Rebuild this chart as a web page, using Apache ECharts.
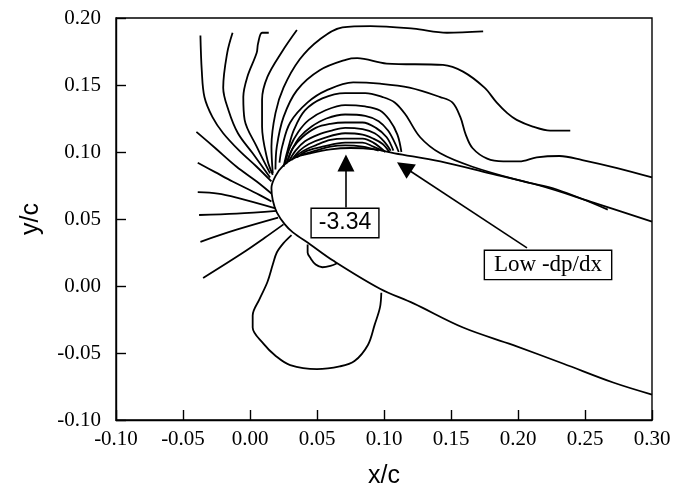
<!DOCTYPE html>
<html>
<head>
<meta charset="utf-8">
<script src="https://cdn.jsdelivr.net/npm/echarts@6/dist/echarts.min.js"></script>
<style>
html,body{margin:0;padding:0;background:#fff;}
#chart{width:686px;height:497px;}
</style>
</head>
<body>
<div id="chart"></div>
<script>
// airfoil surface: upper side from x/c=0.30, round the nose, lower side back to 0.30
const airfoil = [[0.300,0.048],[0.254,0.063],[0.216,0.075],[0.179,0.084],[0.142,0.093],[0.108,0.099],[0.093,0.102],[0.075,0.103],[0.060,0.102],[0.045,0.099],[0.034,0.096],[0.025,0.090],[0.019,0.082],[0.016,0.073],[0.017,0.064],[0.020,0.055],[0.026,0.046],[0.032,0.040],[0.045,0.031],[0.062,0.019],[0.097,-0.002],[0.122,-0.013],[0.159,-0.031],[0.196,-0.044],[0.234,-0.058],[0.271,-0.072],[0.300,-0.081]];

// contours fanning up-left from the nose
const fanL1 = [[-0.037,0.187],[-0.036,0.161],[-0.034,0.141],[-0.028,0.126],[-0.020,0.114],[-0.008,0.101],[0.005,0.089],[0.016,0.078]];
const fanL2 = [[-0.013,0.189],[-0.017,0.174],[-0.020,0.148],[-0.016,0.131],[-0.009,0.114],[0.002,0.099],[0.015,0.081]];
const fanL3 = [[0.014,0.189],[0.009,0.189],[0.006,0.181],[0.005,0.174],[-0.002,0.156],[-0.005,0.141],[-0.004,0.124],[0.005,0.104],[0.015,0.084]];
const fanL4 = [[0.035,0.191],[0.024,0.175],[0.013,0.156],[0.009,0.139],[0.009,0.119],[0.013,0.094],[0.017,0.083]];

// contours going over the top and off to the right
const topT1 = [[0.017,0.084],[0.016,0.104],[0.019,0.129],[0.025,0.148],[0.037,0.169],[0.052,0.184],[0.069,0.193],[0.090,0.194],[0.122,0.192],[0.147,0.189],[0.174,0.190]];
const topT2 = [[0.019,0.087],[0.020,0.104],[0.025,0.126],[0.035,0.146],[0.052,0.161],[0.072,0.169],[0.080,0.170],[0.102,0.166],[0.144,0.165],[0.159,0.160],[0.175,0.148],[0.184,0.137],[0.192,0.129],[0.199,0.124],[0.211,0.119],[0.224,0.116],[0.239,0.116]];
const topT3 = [[0.022,0.092],[0.024,0.104],[0.030,0.122],[0.043,0.137],[0.057,0.146],[0.077,0.152],[0.097,0.151],[0.119,0.148],[0.142,0.141],[0.151,0.137],[0.157,0.126],[0.161,0.113],[0.166,0.103],[0.177,0.095],[0.189,0.093],[0.201,0.093],[0.214,0.096],[0.231,0.097],[0.248,0.094],[0.274,0.088],[0.300,0.081]];
const topT4 = [[0.025,0.089],[0.028,0.101],[0.033,0.117],[0.041,0.131],[0.054,0.140],[0.071,0.144],[0.086,0.144],[0.099,0.141],[0.108,0.137],[0.116,0.128],[0.127,0.111],[0.142,0.099],[0.166,0.089],[0.204,0.078],[0.229,0.072],[0.267,0.057]];

// tight arcs over the suction peak
const arcA5 = [[0.026,0.091],[0.030,0.104],[0.036,0.115],[0.044,0.124],[0.056,0.131],[0.071,0.135],[0.086,0.134],[0.097,0.131],[0.104,0.124],[0.110,0.113],[0.113,0.100]];
const arcA6 = [[0.027,0.091],[0.031,0.101],[0.037,0.111],[0.046,0.119],[0.057,0.125],[0.071,0.128],[0.086,0.127],[0.096,0.123],[0.103,0.116],[0.108,0.107],[0.111,0.100]];
const arcA7 = [[0.028,0.093],[0.032,0.103],[0.039,0.111],[0.049,0.118],[0.060,0.121],[0.071,0.122],[0.084,0.122],[0.094,0.118],[0.102,0.111],[0.107,0.101]];
const arcA8 = [[0.029,0.093],[0.034,0.101],[0.041,0.108],[0.051,0.113],[0.061,0.116],[0.071,0.118],[0.084,0.117],[0.093,0.114],[0.100,0.108],[0.105,0.101]];
const arcA9 = [[0.031,0.094],[0.037,0.101],[0.044,0.106],[0.054,0.110],[0.071,0.114],[0.084,0.113],[0.092,0.110],[0.099,0.106],[0.104,0.100]];
const arcA10 = [[0.033,0.096],[0.040,0.101],[0.049,0.105],[0.060,0.109],[0.071,0.110],[0.084,0.110],[0.092,0.107],[0.101,0.100]];
const arcA11 = [[0.035,0.096],[0.043,0.101],[0.054,0.104],[0.071,0.107],[0.084,0.107],[0.092,0.104],[0.099,0.101]];
const arcA12 = [[0.039,0.098],[0.049,0.101],[0.060,0.104],[0.071,0.105],[0.084,0.104],[0.096,0.101]];

// contours coming in from the left into the stagnation point
const leftF = [[-0.040,0.115],[-0.026,0.103],[-0.010,0.089],[0.005,0.078],[0.016,0.069]];
const leftG = [[-0.039,0.092],[-0.026,0.085],[-0.013,0.078],[0.007,0.068],[0.016,0.063]];
const leftH = [[-0.039,0.070],[-0.024,0.069],[-0.010,0.066],[0.019,0.058]];
const leftI = [[-0.038,0.053],[-0.010,0.054],[0.020,0.056]];
const leftJ = [[-0.037,0.033],[-0.010,0.042],[0.021,0.051]];
const leftK = [[-0.035,0.006],[-0.005,0.025],[0.011,0.036],[0.025,0.046]];

// closed-ish contours under the lower surface
const lowerLoop = [[0.031,0.038],[0.025,0.032],[0.020,0.025],[0.017,0.016],[0.013,0.003],[0.007,-0.010],[0.002,-0.022],[0.002,-0.031],[0.010,-0.043],[0.019,-0.052],[0.030,-0.059],[0.050,-0.062],[0.067,-0.060],[0.078,-0.056],[0.088,-0.044],[0.093,-0.029],[0.097,-0.016],[0.098,-0.005]];
const smallLoop = [[0.043,0.031],[0.043,0.025],[0.045,0.021],[0.049,0.016],[0.054,0.014],[0.060,0.015],[0.065,0.017]];

// annotations
const peakLabel = '-3.34';
const peakBox = [0.0709, 0.047];
const peakArrow = [[0.0716, 0.0586], [0.0716, 0.0918]];
const dpdxLabel = 'Low -dp/dx';
const dpdxBox = [0.2224, 0.0157];
const dpdxArrow = [[0.2067, 0.0284], [0.1150, 0.0888]];

const contours = [airfoil, fanL1, fanL2, fanL3, fanL4, topT1, topT2, topT3, topT4,
    arcA5, arcA6, arcA7, arcA8, arcA9, arcA10, arcA11, arcA12,
    leftF, leftG, leftH, leftI, leftJ, leftK, lowerLoop, smallLoop];

const serif = 'Liberation Serif';
const sans = 'Liberation Sans';

let myChart = echarts.init(document.getElementById('chart'));

let series = contours.map(function(d){
    return {
        type: 'line',
        data: d,
        smooth: 0.35,
        symbol: 'none',
        silent: true,
        lineStyle: {color: '#000', width: 1.8},
    };
});

series.push({
    type: 'lines',
    coordinateSystem: 'cartesian2d',
    silent: true,
    symbol: ['none', 'triangle'],
    symbolSize: [11, 17],
    lineStyle: {color: '#000', width: 1.6, opacity: 1},
    data: [{coords: peakArrow}, {coords: dpdxArrow}],
    z: 5,
});

function boxSeries(pos, text, font, size, pad){
    return {
        type: 'scatter',
        data: [pos],
        symbolSize: 1,
        itemStyle: {color: 'rgba(0,0,0,0)', opacity: 1},
        silent: true,
        z: 6,
        label: {
            show: true,
            position: 'inside',
            formatter: text,
            fontFamily: font,
            fontSize: size,
            color: '#000',
            backgroundColor: '#fff',
            borderColor: '#000',
            borderWidth: 1.4,
            padding: pad,
        },
    };
}
series.push(boxSeries(peakBox, peakLabel, sans, 23, [3, 7, 2, 7]));
series.push(boxSeries(dpdxBox, dpdxLabel, serif, 23, [3, 9, 2, 9]));

function fmt(v){
    return (Math.round(v * 100) / 100).toFixed(2);
}

let option = {
    animation: false,
    backgroundColor: '#fff',
    grid: {
        left: 116,
        top: 18,
        right: 34,
        bottom: 77,
        show: true,
        borderColor: '#000',
        borderWidth: 1.4,
    },
    xAxis: {
        type: 'value',
        min: -0.1,
        max: 0.3,
        interval: 0.05,
        name: 'x/c',
        nameLocation: 'middle',
        nameGap: 44,
        nameTextStyle: {fontFamily: sans, fontSize: 25, color: '#000'},
        axisLine: {show: true, onZero: false, lineStyle: {color: '#000', width: 1.4}},
        axisTick: {show: true, inside: true, length: 10, lineStyle: {color: '#000', width: 1.4}},
        axisLabel: {formatter: fmt, fontFamily: serif, fontSize: 21, color: '#000', margin: 9},
        splitLine: {show: false},
    },
    yAxis: {
        type: 'value',
        min: -0.1,
        max: 0.2,
        interval: 0.05,
        name: 'y/c',
        nameLocation: 'middle',
        nameGap: 72,
        nameTextStyle: {fontFamily: sans, fontSize: 25, color: '#000'},
        axisLine: {show: true, onZero: false, lineStyle: {color: '#000', width: 1.4}},
        axisTick: {show: true, inside: true, length: 10, lineStyle: {color: '#000', width: 1.4}},
        axisLabel: {formatter: fmt, fontFamily: serif, fontSize: 21, color: '#000', margin: 15},
        splitLine: {show: false},
    },
    series: series,
};

myChart.setOption(option);
</script>
</body>
</html>
